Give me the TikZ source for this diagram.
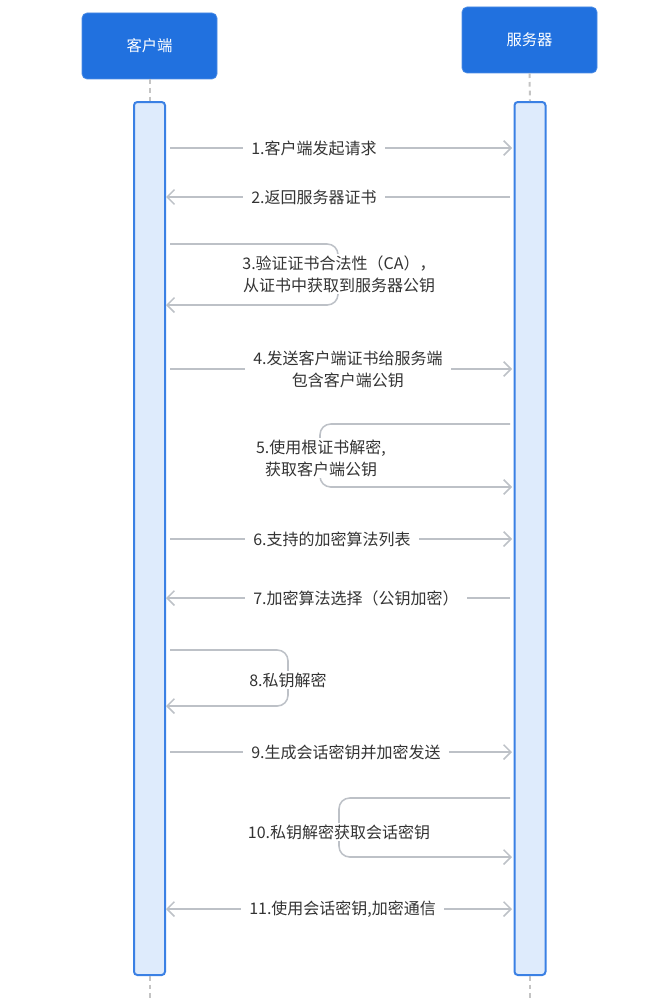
\documentclass[tikz,border=0pt]{standalone}
\usepackage{fontspec}
\newfontfamily\cjk{Noto Sans CJK SC}
\usetikzlibrary{arrows.meta}
\definecolor{hdr}{HTML}{2171DF}
\definecolor{barfill}{HTML}{DEEBFC}
\definecolor{barline}{HTML}{3A80E4}
\definecolor{arrowc}{HTML}{BDC1C7}
\definecolor{txt}{HTML}{333333}
\definecolor{life}{HTML}{C4C4C4}
\tikzset{
  hdrbox/.style={fill=hdr, draw=hdr!80!white, line width=0.5pt, rounded corners=3.75pt,
    minimum width=101.25pt, minimum height=49.5pt, text=white,
    font=\cjk\fontsize{11.5}{14}\selectfont},
  barbox/.style={fill=barfill, draw=barline, line width=1.5pt, rounded corners=2.5pt,
    minimum width=23.25pt, minimum height=654.75pt, inner sep=0pt},
  lifeline/.style={draw=life, line width=1.5pt, dash pattern=on 3.5pt off 3pt},
  tipx/.tip={Straight Barb[length=5.5pt,width=11pt]},
  msg/.style={draw=arrowc, line width=1.15pt, -tipx},
  dmsg/.style={draw=arrowc, line width=1.15pt, tipx-tipx},
  lbl/.style={fill=white, text=txt, inner xsep=6pt, inner ysep=1pt, align=center,
    font=\cjk\fontsize{12}{16.5}\selectfont},
}
\begin{document}
\begin{tikzpicture}[x=0.75pt,y=-0.75pt]
\useasboundingbox[fill=white] (0,0) rectangle (660,999);
% headers
\node[hdrbox] (client) at (149.5,46) {客户端};
\node[hdrbox] (server) at (529.5,40) {服务器};
% activation bars
\node[barbox] (cbar) at (149.5,538.5) {};
\node[barbox] (sbar) at (530,538.5) {};
\coordinate (cend) at (149.5,999);
\coordinate (send) at (530,999);
\draw[lifeline] (client.south) -- (cbar.north);
\draw[lifeline] (server.south) -- (sbar.north);
\draw[lifeline] (cbar.south) -- (cend);
\draw[lifeline] (sbar.south) -- (send);

% 1
\coordinate (a1) at (170,148); \coordinate (b1) at (512,148);
\draw[msg] (a1) -- (b1);
\node[lbl, anchor=west] (l1) at (243,148) {1.客户端发起请求};
% 2
\coordinate (a2) at (510,197); \coordinate (b2) at (166,197);
\draw[msg] (a2) -- (b2);
\node[lbl, anchor=west] (l2) at (243,197) {2.返回服务器证书};
% 3 self loop client
\coordinate (a3) at (170,244); \coordinate (b3) at (166,305);
\draw[msg, rounded corners=8pt] (a3) -- (338,244) -- (338,305) -- (b3);
\node[lbl] (l3) at (339,274) {3.验证证书合法性（CA），\\从证书中获取到服务器公钥};
% 4
\coordinate (a4) at (170,369); \coordinate (b4) at (512,369);
\draw[msg] (a4) -- (b4);
\node[lbl, anchor=west] (l4) at (245,369) {4.发送客户端证书给服务端\\包含客户端公钥};
% 5 self loop server
\coordinate (a5) at (510,424); \coordinate (b5) at (512,487);
\draw[msg, rounded corners=8pt] (a5) -- (320,424) -- (320,487) -- (b5);
\node[lbl] (l5) at (321,458) {5.使用根证书解密,\\获取客户端公钥};
% 6
\coordinate (a6) at (170,539); \coordinate (b6) at (512,539);
\draw[msg] (a6) -- (b6);
\node[lbl, anchor=west] (l6) at (245,539) {6.支持的加密算法列表};
% 7
\coordinate (a7) at (510,598); \coordinate (b7) at (166,598);
\draw[msg] (a7) -- (b7);
\node[lbl, anchor=west] (l7) at (245,598) {7.加密算法选择（公钥加密）};
% 8 self loop client
\coordinate (a8) at (170,650); \coordinate (b8) at (166,706);
\draw[msg, rounded corners=8pt] (a8) -- (288,650) -- (288,706) -- (b8);
\node[lbl] (l8) at (288,680) {8.私钥解密};
% 9
\coordinate (a9) at (170,752); \coordinate (b9) at (512,752);
\draw[msg] (a9) -- (b9);
\node[lbl, anchor=west] (l9) at (243,752) {9.生成会话密钥并加密发送};
% 10 self loop server
\coordinate (a10) at (510,798); \coordinate (b10) at (512,857);
\draw[msg, rounded corners=8pt] (a10) -- (339,798) -- (339,857) -- (b10);
\node[lbl] (l10) at (339,832) {10.私钥解密获取会话密钥};
% 11
\coordinate (a11) at (166,909); \coordinate (b11) at (512,909);
\draw[dmsg] (a11) -- (b11);
\node[lbl, anchor=west] (l11) at (241,909) {11.使用会话密钥,加密通信};
\end{tikzpicture}
\end{document}
